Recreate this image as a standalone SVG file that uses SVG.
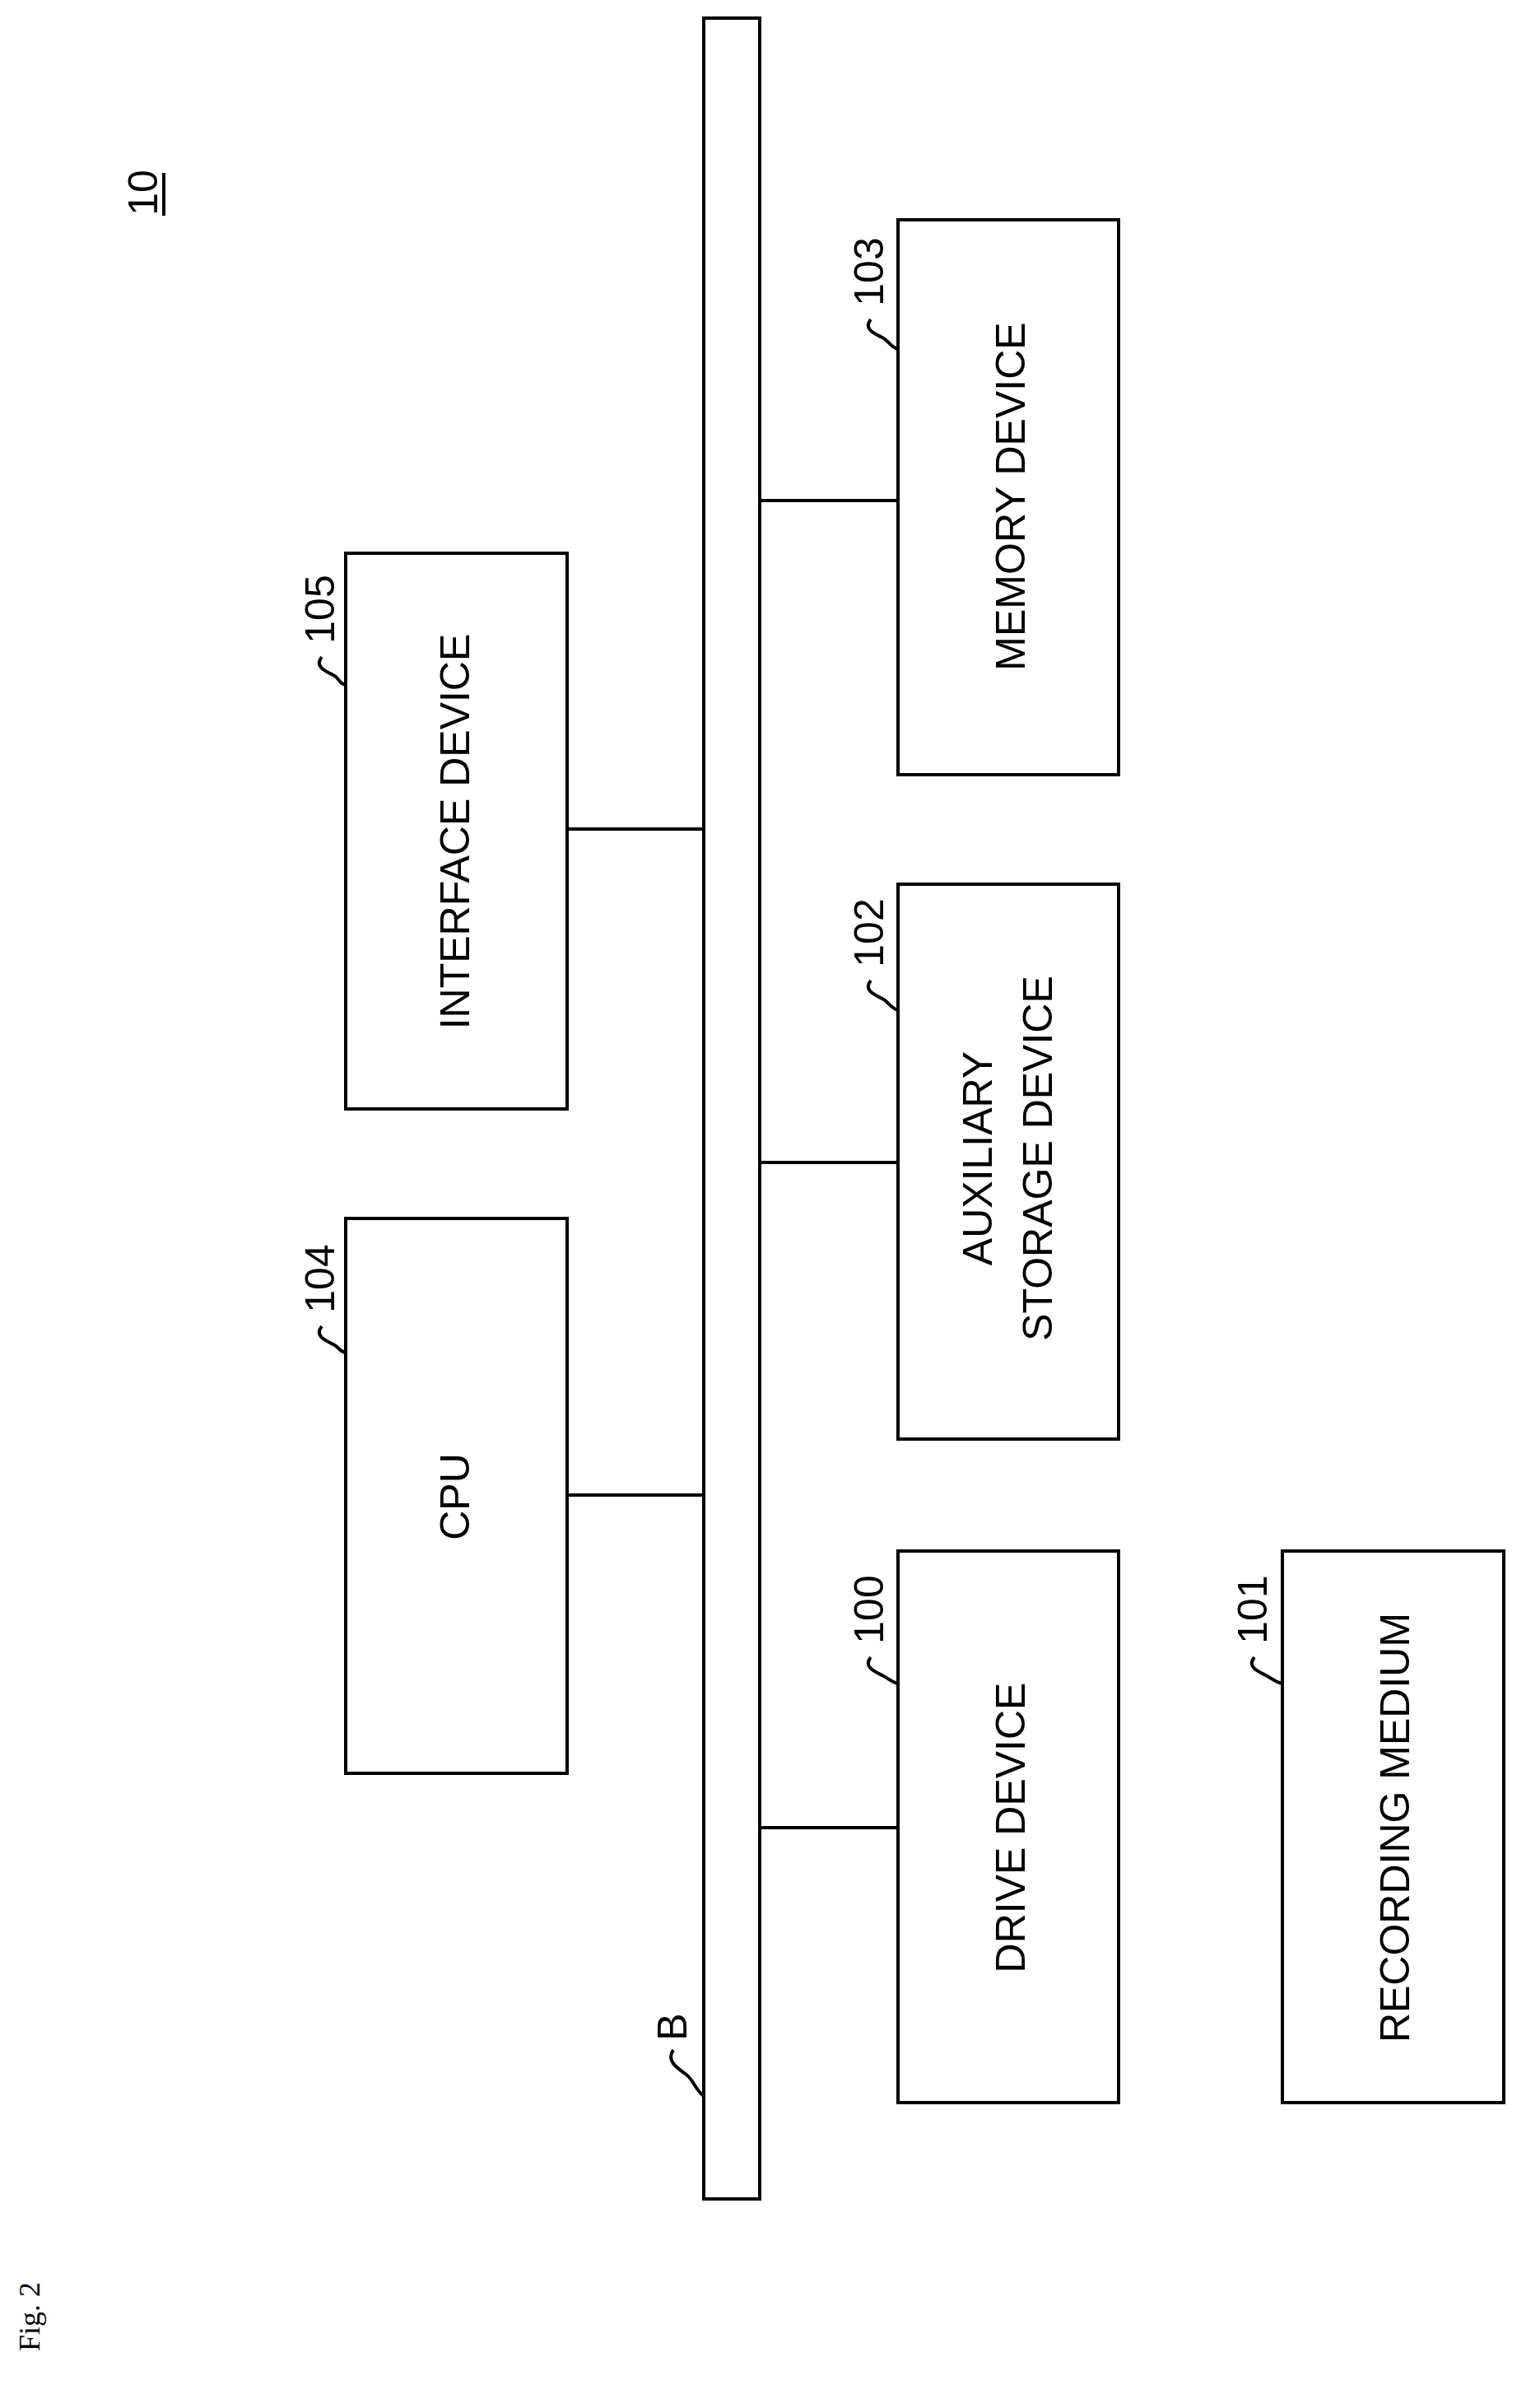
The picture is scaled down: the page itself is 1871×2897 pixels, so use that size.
<svg xmlns="http://www.w3.org/2000/svg" width="1871" height="2897" viewBox="0 0 1871 2897">
<style>
.b{fill:#fff;stroke:#000;stroke-width:4}
.t{font-family:"Liberation Sans",Arial,sans-serif;font-size:50px;text-anchor:middle;dominant-baseline:central}
.l{fill:none;stroke:#000;stroke-width:4}
</style>
<rect width="1871" height="2897" fill="#fff"/>
<g id="bus"><rect class="b" x="855" y="22" width="68" height="2649"/></g>
<g id="connectors">
<path class="l" d="M923 608H1091M689 1007H855M923 1412H1091M689 1816H855M923 2220H1091"/>
</g>
<g id="n103"><rect class="b" x="1091" y="267" width="268" height="674"/><text class="t" transform="translate(1228,603) rotate(-90)">MEMORY DEVICE</text></g>
<g id="n105"><rect class="b" x="420" y="672" width="269" height="675"/><text class="t" transform="translate(553,1010) rotate(-90)">INTERFACE DEVICE</text></g>
<g id="n102"><rect class="b" x="1091" y="1074" width="268" height="674"/><text class="t" transform="translate(1188,1407) rotate(-90)">AUXILIARY</text><text class="t" transform="translate(1261,1407) rotate(-90)">STORAGE DEVICE</text></g>
<g id="n104"><rect class="b" x="420" y="1480" width="269" height="674"/><text class="t" transform="translate(553,1818) rotate(-90)">CPU</text></g>
<g id="n100"><rect class="b" x="1091" y="1884" width="268" height="670"/><text class="t" transform="translate(1228,2220) rotate(-90)">DRIVE DEVICE</text></g>
<g id="n101"><rect class="b" x="1558" y="1884" width="269" height="670"/><text class="t" transform="translate(1695,2220) rotate(-90)">RECORDING MEDIUM</text></g>
<g id="labels">
<text class="t" transform="translate(1056,330) rotate(-90)">103</text>
<path class="l" d="M1058 388c-10 12 6 18 14 22s10 12 19 14"/>
<text class="t" transform="translate(389,740) rotate(-90)">105</text>
<path class="l" d="M391 798c-10 12 6 18 14 22s6 10 15 12"/>
<text class="t" transform="translate(1056,1133) rotate(-90)">102</text>
<path class="l" d="M1058 1191c-10 12 6 18 14 22s10 12 19 14"/>
<text class="t" transform="translate(389,1553) rotate(-90)">104</text>
<path class="l" d="M391 1611c-10 12 6 18 14 22s6 8 15 10"/>
<text class="t" transform="translate(1056,1955) rotate(-90)">100</text>
<path class="l" d="M1058 2013c-10 12 6 18 14 22s10 8 19 10"/>
<text class="t" transform="translate(1522,1955) rotate(-90)">101</text>
<path class="l" d="M1524 2013c-10 12 6 18 14 22s10 8 20 10"/>
<text class="t" transform="translate(817,2462) rotate(-90)">B</text>
<path class="l" d="M818 2490c-10 14 8 24 16 30s12 20 21 26"/>
<text class="t" transform="translate(174,234) rotate(-90)">10</text>
<line class="l" x1="199" y1="210" x2="199" y2="262"/>
<text transform="translate(36,2814) rotate(-90)" style="font-family:'Liberation Serif',serif;font-size:36px;text-anchor:middle;dominant-baseline:central">Fig. 2</text>
</g>
</svg>
